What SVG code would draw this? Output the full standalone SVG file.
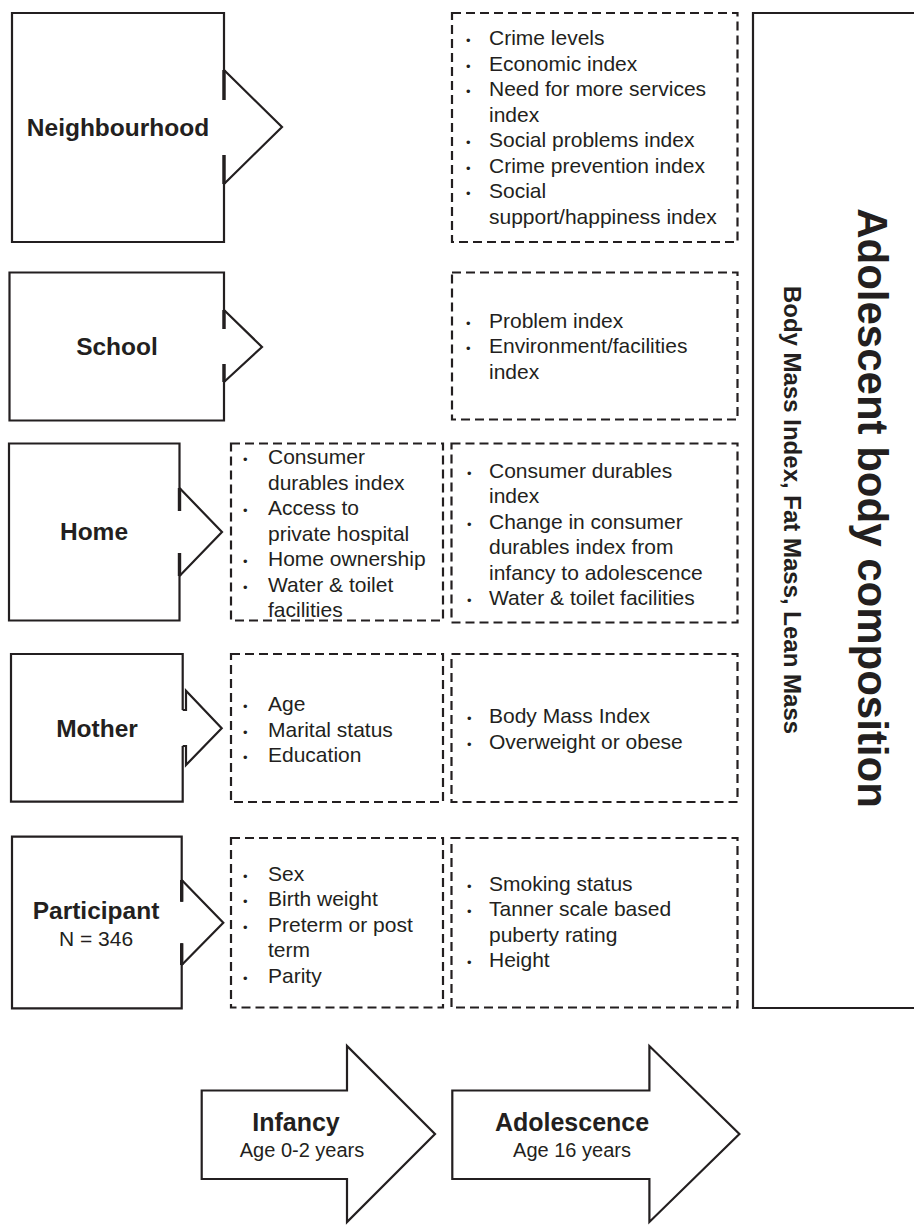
<svg xmlns="http://www.w3.org/2000/svg" width="914" height="1225" viewBox="0 0 914 1225">
<style>
.s{fill:none;stroke:#231f20;stroke-width:2.2;stroke-linejoin:miter}
.f{fill:#fff;stroke:#231f20;stroke-width:2.2;stroke-linejoin:miter}
.tk{fill:none;stroke:#231f20;stroke-width:3.4}
.d{fill:none;stroke:#231f20;stroke-width:2.2;stroke-dasharray:9 5}
text{font-family:"Liberation Sans",Arial,Helvetica,sans-serif;fill:#231f20}
.lb{font-size:24.5px;font-weight:bold;text-anchor:middle}
.it{font-size:21px}
.bu{font-size:13px}
.sm{font-size:21px;text-anchor:middle}
.ti{font-size:42px;font-weight:bold;text-anchor:middle}
.st{font-size:24px;font-weight:bold;text-anchor:middle}
.ab{font-size:25px;font-weight:bold;text-anchor:middle}
.ar{font-size:20px;text-anchor:middle}
</style>
<rect width="914" height="1225" fill="#fff"/>

<g id="neighbourhood">
<path class="s" d="M224,100 V13 H12 V242 H224 V155"/>
<text class="lb" x="118" y="136">Neighbourhood</text>
</g>
<g id="neighbourhood-adolescence">
<rect class="d" x="452" y="13" width="285.5" height="229"/>
<text class="bu" x="466" y="45">•</text><text class="it" x="489" y="45">Crime levels</text>
<text class="bu" x="466" y="70.5">•</text><text class="it" x="489" y="70.5">Economic index</text>
<text class="bu" x="466" y="96">•</text><text class="it" x="489" y="96">Need for more services</text>
<text class="it" x="489" y="121.5">index</text>
<text class="bu" x="466" y="147">•</text><text class="it" x="489" y="147">Social problems index</text>
<text class="bu" x="466" y="172.5">•</text><text class="it" x="489" y="172.5">Crime prevention index</text>
<text class="bu" x="466" y="198">•</text><text class="it" x="489" y="198">Social</text>
<text class="it" x="489" y="223.5">support/happiness index</text>
</g>

<g id="school">
<path class="s" d="M224,329 V272.5 H9.5 V420.5 H224 V364"/>
<text class="lb" x="117" y="355">School</text>
</g>
<g id="school-adolescence">
<rect class="d" x="452" y="272.5" width="285.5" height="147"/>
<text class="bu" x="466" y="327.5">•</text><text class="it" x="489" y="327.5">Problem index</text>
<text class="bu" x="466" y="353">•</text><text class="it" x="489" y="353">Environment/facilities</text>
<text class="it" x="489" y="378.5">index</text>
</g>

<g id="home">
<path class="s" d="M179.5,511 V443.5 H9 V620.5 H179.5 V553"/>
<text class="lb" x="94" y="539.5">Home</text>
</g>
<g id="home-infancy">
<rect class="d" x="231" y="443.5" width="212" height="177"/>
<text class="bu" x="243" y="464">•</text><text class="it" x="268" y="464">Consumer</text>
<text class="it" x="268" y="489.5">durables index</text>
<text class="bu" x="243" y="515">•</text><text class="it" x="268" y="515">Access to</text>
<text class="it" x="268" y="540.5">private hospital</text>
<text class="bu" x="243" y="566">•</text><text class="it" x="268" y="566">Home ownership</text>
<text class="bu" x="243" y="591.5">•</text><text class="it" x="268" y="591.5">Water &amp; toilet</text>
<text class="it" x="268" y="617">facilities</text>
</g>
<g id="home-adolescence">
<rect class="d" x="451.5" y="443.5" width="286" height="179"/>
<text class="bu" x="467" y="477.5">•</text><text class="it" x="489" y="477.5">Consumer durables</text>
<text class="it" x="489" y="503">index</text>
<text class="bu" x="467" y="528.5">•</text><text class="it" x="489" y="528.5">Change in consumer</text>
<text class="it" x="489" y="554">durables index from</text>
<text class="it" x="489" y="579.5">infancy to adolescence</text>
<text class="bu" x="467" y="605">•</text><text class="it" x="489" y="605">Water &amp; toilet facilities</text>
</g>

<g id="mother">
<path class="s" d="M182.7,710 V654 H11 V801.7 H182.7 V746"/>
<text class="lb" x="97" y="736.5">Mother</text>
</g>
<g id="mother-infancy">
<rect class="d" x="231" y="654" width="212" height="148"/>
<text class="bu" x="243" y="711">•</text><text class="it" x="268" y="711">Age</text>
<text class="bu" x="243" y="736.5">•</text><text class="it" x="268" y="736.5">Marital status</text>
<text class="bu" x="243" y="762">•</text><text class="it" x="268" y="762">Education</text>
</g>
<g id="mother-adolescence">
<rect class="d" x="451.5" y="654" width="286" height="148"/>
<text class="bu" x="467" y="723">•</text><text class="it" x="489" y="723">Body Mass Index</text>
<text class="bu" x="467" y="748.5">•</text><text class="it" x="489" y="748.5">Overweight or obese</text>
</g>

<g id="participant">
<path class="s" d="M181.7,901.7 V836.7 H12 V1008.3 H181.7 V943.3"/>
<text class="lb" x="96" y="919">Participant</text>
<text class="sm" x="96" y="946">N = 346</text>
</g>
<g id="participant-infancy">
<rect class="d" x="231" y="838" width="212" height="169.5"/>
<text class="bu" x="243" y="880.5">•</text><text class="it" x="268" y="880.5">Sex</text>
<text class="bu" x="243" y="906">•</text><text class="it" x="268" y="906">Birth weight</text>
<text class="bu" x="243" y="931.5">•</text><text class="it" x="268" y="931.5">Preterm or post</text>
<text class="it" x="268" y="957">term</text>
<text class="bu" x="243" y="982.5">•</text><text class="it" x="268" y="982.5">Parity</text>
</g>
<g id="participant-adolescence">
<rect class="d" x="451.5" y="838" width="286" height="169.5"/>
<text class="bu" x="467" y="890.5">•</text><text class="it" x="489" y="890.5">Smoking status</text>
<text class="bu" x="467" y="916">•</text><text class="it" x="489" y="916">Tanner scale based</text>
<text class="it" x="489" y="941.5">puberty rating</text>
<text class="bu" x="467" y="967">•</text><text class="it" x="489" y="967">Height</text>
</g>

<g id="outcome">
<path class="s" d="M916,13 H753 V1008 H916"/>
<text class="ti" transform="translate(858,508) rotate(90)">Adolescent body composition</text>
<text class="st" transform="translate(784,510) rotate(90)">Body Mass Index, Fat Mass, Lean Mass</text>
</g>

<g id="infancy">
<path class="f" d="M201.7,1090.5 H347 V1046 L435,1134 L347,1222 V1179 H201.7 Z"/>
<text class="ab" x="296" y="1131">Infancy</text>
<text class="ar" x="302" y="1157">Age 0-2 years</text>
</g>
<g id="adolescence">
<path class="f" d="M452.3,1090.5 H649.4 V1046 L739.4,1134 L649.4,1222 V1179 H452.3 Z"/>
<text class="ab" x="572" y="1131">Adolescence</text>
<text class="ar" x="572" y="1157">Age 16 years</text>
</g>

<g id="connectors">
<path class="s" d="M224,70 L282,127 L224,184"/>
<path class="tk" d="M224,70 V100 M224,155 V184"/>
<path class="s" d="M224,310 L262,347 L224,382"/>
<path class="tk" d="M224,310 V329 M224,364 V382"/>
<path class="s" d="M179.5,488 L222,532 L179.5,576"/>
<path class="tk" d="M179.5,488 V511 M179.5,553 V576"/>
<path class="s" d="M182.7,710 H186 V690.7 L221.7,728.3 L186,765 V746 H182.7"/>
<path class="s" d="M181.7,880 L223.3,922.7 L181.7,965"/>
<path class="tk" d="M181.7,880 V901.7 M181.7,943.3 V965"/>
</g>
</svg>
